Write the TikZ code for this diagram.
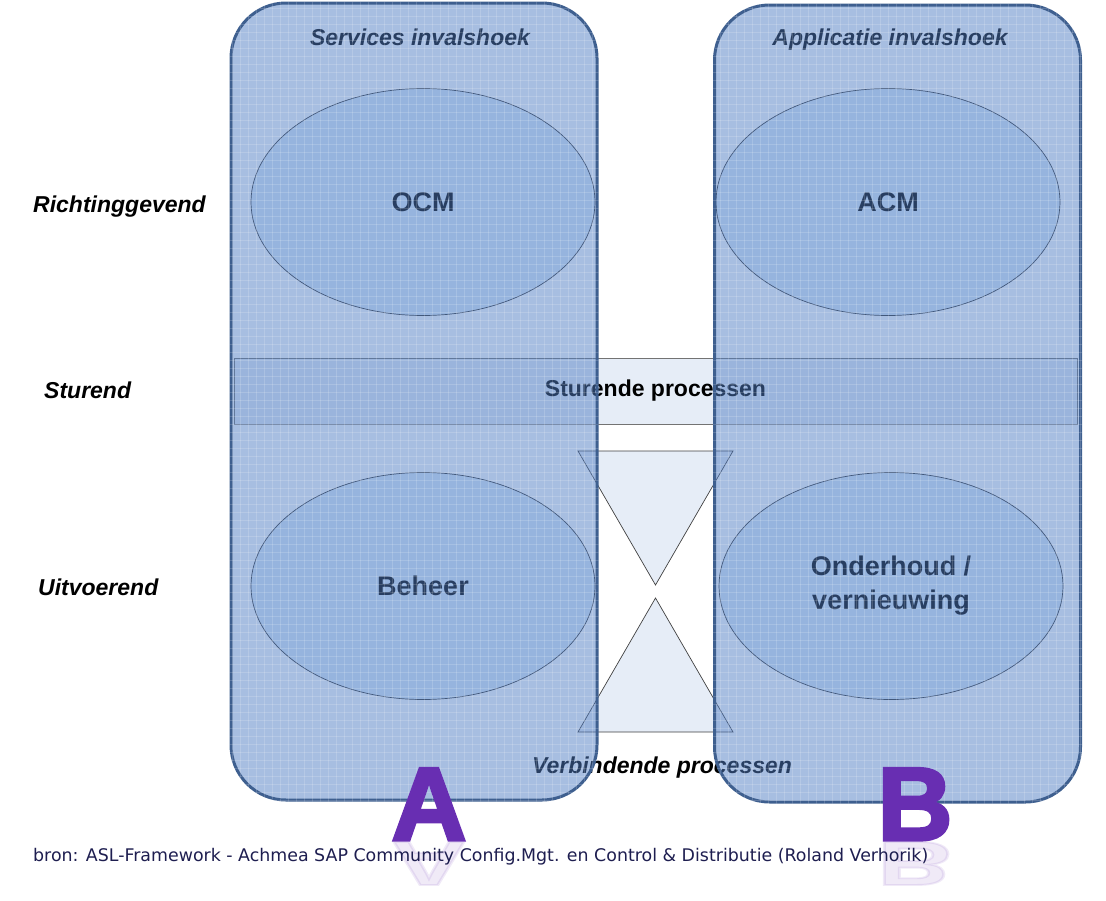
\documentclass[tikz,border=0pt]{standalone}
\usepackage{fontspec}
\setmainfont{Liberation Sans}
\newfontfamily\bronfont{DejaVu Sans}
\newfontfamily\letterfont[FakeBold=3]{Liberation Sans Bold}
\usetikzlibrary{shapes.geometric}

\definecolor{kolomblauw}{RGB}{80,125,195}
\definecolor{kolomrand}{RGB}{62,95,143}
\definecolor{lichtblauw}{RGB}{230,237,247}
\definecolor{ovaalblauw}{RGB}{222,236,250}
\definecolor{paars}{RGB}{104,46,178}
\definecolor{bronkleur}{RGB}{30,30,80}

\begin{document}
\begin{tikzpicture}[x=1pt, y=-1pt,
            kolom/.style = {shape=rectangle, rounded corners=55pt,
                            draw=kolomrand, line width=3pt,
                            fill=kolomblauw, fill opacity=0.5,
                            minimum width=366pt, minimum height=797pt},
            ovaal/.style = {shape=ellipse, draw=black!80, line width=0.7pt,
                            fill=ovaalblauw, inner sep=0pt, align=center,
                            minimum width=344pt, minimum height=227pt,
                            font=\fontsize{27}{34}\selectfont\bfseries},
            balk/.style = {shape=rectangle, draw=black!55, line width=0.8pt,
                           fill=lichtblauw, minimum width=843pt, minimum height=66pt,
                           font=\fontsize{23}{28}\selectfont\bfseries},
            kop/.style = {inner sep=0pt, text height=17pt, text depth=5pt,
                          font=\fontsize{23}{28}\selectfont\bfseries\itshape},
            trechter/.style = {draw=black!75, line width=0.7pt, fill=lichtblauw},
            raster/.style = {white, opacity=0.16, line width=0.6pt},
            letter/.style = {text=paars, inner sep=0pt, anchor=base,
                             font=\letterfont\fontsize{104}{104}\selectfont}]
    \useasboundingbox (0,0) rectangle (1106,900);

    % sturende en verbindende processen
    \node[balk] (sturing) at (655.5,391) {\raisebox{-2pt}{Sturende processen}};
    \draw[trechter] (578,451) -- (733,451) -- (655.5,585) -- cycle;
    \draw[trechter] (578,732) -- (733,732) -- (655.5,598) -- cycle;
    \node[kop] (verbinding) at (662,767) {Verbindende processen};

    % processen per invalshoek
    \node[ovaal] (ocm) at (423,202) {OCM};
    \node[ovaal] (acm) at (888,202) {ACM};
    \node[ovaal] (beheer) at (423,586) {Beheer};
    \node[ovaal] (onderhoud) at (891,586) {Onderhoud /\\vernieuwing};

    \node[kop] (services) at (420,39) {Services invalshoek};
    \node[kop] (applicatie) at (890,39) {Applicatie invalshoek};

    % de twee kolommen
    \node[kolom] (kolomA) at (414,401.5) {};
    \node[kolom] (kolomB) at (897.5,403.5) {};

    \begin{scope}
        \clip[rounded corners=55pt] (kolomA.north west) rectangle (kolomA.south east)
                                    (kolomB.north west) rectangle (kolomB.south east);
        \foreach \x in {224,232,...,1088}
            \draw[raster] (\x,0) -- (\x,810);
        \foreach \y in {0,8,...,808}
            \draw[raster] (220,\y) -- (1090,\y);
    \end{scope}

    % niveaus
    \node[kop, anchor=west] (richting) at (33,206) {Richtinggevend};
    \node[kop, anchor=west] (sturend) at (44,392) {Sturend};
    \node[kop, anchor=west] (uitvoerend) at (38,589) {Uitvoerend};

    % letters met spiegeling
    \node[letter, yscale=-0.6, text opacity=0.1] (spiegelA) at (429,842) {A};
    \node[letter, yscale=-0.6, text opacity=0.1] (spiegelB) at (915,842) {B};
    \node[letter] (letterA) at (429,840) {A};
    \node[letter] (letterB) at (915,840) {B};

    \node[anchor=west, inner sep=0pt, text=bronkleur,
          font=\bronfont\fontsize{17.4}{20}\selectfont] (bron) at (33,857)
          {bron: ASL-Framework - Achmea SAP Community Config.Mgt. en Control \& Distributie (Roland Verhorik)};
\end{tikzpicture}
\end{document}
